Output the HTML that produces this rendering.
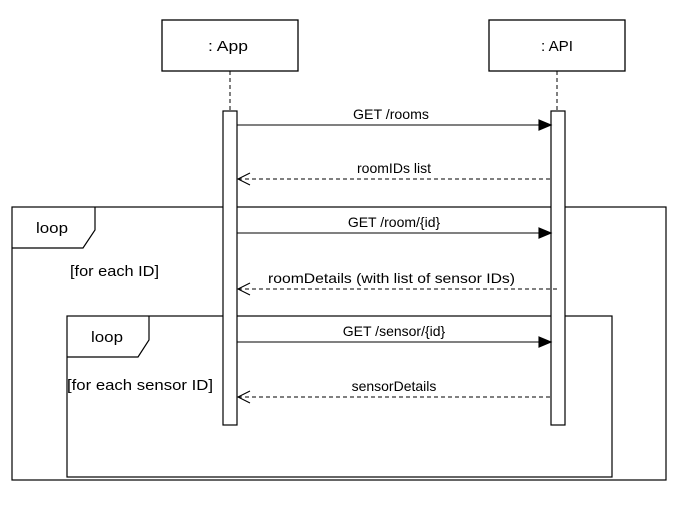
<!DOCTYPE html>
<html><head><style>body{margin:0;background:#fff}</style></head><body>
<svg width="678" height="518" xmlns="http://www.w3.org/2000/svg" font-family="Liberation Sans, sans-serif" font-size="14" fill="none" stroke="#000">
<rect x="0" y="0" width="678" height="518" fill="#fff" stroke="none"/>
<rect x="162" y="20" width="136" height="51" stroke-width="1.3"/>
<rect x="489" y="20" width="136" height="51" stroke-width="1.3"/>
<text x="208" y="51" textLength="40" lengthAdjust="spacingAndGlyphs" fill="#000" stroke="none" font-size="15">: App</text>
<text x="541" y="51" textLength="32" lengthAdjust="spacingAndGlyphs" fill="#000" stroke="none" font-size="15">: API</text>
<line x1="230" y1="71" x2="230" y2="452" stroke-dasharray="4,3"/>
<line x1="557" y1="71" x2="557" y2="452" stroke-dasharray="4,3"/>
<rect x="12" y="207" width="654" height="273" stroke-width="1.2"/>
<path d="M12 248 H83 L95 230 V207" stroke-width="1.2"/>
<text x="36" y="233" textLength="32" lengthAdjust="spacingAndGlyphs" fill="#000" stroke="none" font-size="15">loop</text>
<text x="70" y="276" textLength="89" lengthAdjust="spacingAndGlyphs" fill="#000" stroke="none" font-size="15">[for each ID]</text>
<rect x="67" y="316" width="545" height="161" stroke-width="1.2" fill="#fff"/>
<path d="M67 357 H138 L149 340 V316" stroke-width="1.2"/>
<text x="91" y="342" textLength="32" lengthAdjust="spacingAndGlyphs" fill="#000" stroke="none" font-size="15">loop</text>
<text x="67" y="390" textLength="146" lengthAdjust="spacingAndGlyphs" fill="#000" stroke="none" font-size="15">[for each sensor ID]</text>
<rect x="223" y="111" width="14" height="314" fill="#fff" stroke-width="1.2"/>
<rect x="551" y="111" width="14" height="314" fill="#fff" stroke-width="1.2"/>
<g fill="#000" stroke="none" font-size="14">
<text x="353" y="119" textLength="76" lengthAdjust="spacingAndGlyphs">GET /rooms</text>
<text x="357" y="173" textLength="74" lengthAdjust="spacingAndGlyphs">roomIDs list</text>
<text x="394" y="227" text-anchor="middle">GET /room/{id}</text>
<text x="268" y="283" textLength="247" lengthAdjust="spacingAndGlyphs">roomDetails (with list of sensor IDs)</text>
<text x="394" y="336" text-anchor="middle">GET /sensor/{id}</text>
<text x="394" y="391" text-anchor="middle">sensorDetails</text>
</g>
<g stroke-width="1.1">
<line x1="237" y1="125" x2="541" y2="125"/><path d="M539 120 L551 125 L539 130Z" fill="#000"/>
<line x1="237" y1="233" x2="541" y2="233"/><path d="M539 228 L551 233 L539 238Z" fill="#000"/>
<line x1="237" y1="342" x2="541" y2="342"/><path d="M539 337 L551 342 L539 347Z" fill="#000"/>
<line x1="238" y1="179" x2="551" y2="179" stroke-dasharray="4,3"/><path d="M250 173 L238 179 L250 185"/>
<line x1="238" y1="289" x2="557" y2="289" stroke-dasharray="4,3"/><path d="M250 283 L238 289 L250 295"/>
<line x1="238" y1="397" x2="551" y2="397" stroke-dasharray="4,3"/><path d="M250 391 L238 397 L250 403"/>
</g>
</svg>
</body></html>
